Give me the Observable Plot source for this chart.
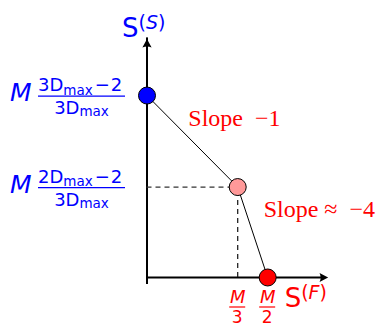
<!DOCTYPE html>
<html>
<head>
<meta charset="utf-8">
<script src="https://cdn.jsdelivr.net/npm/d3@7"></script>
<script src="https://cdn.jsdelivr.net/npm/@observablehq/plot@0.6"></script>
<style>
  body { margin: 0; background: #fff; }
  #chart svg { display: block; }
</style>
</head>
<body>
<div id="chart"></div>
<script>
// Breakpoints of the piecewise-linear frontier (schematic units of M)
const pointNames = ["top", "knee", "end"];
const pointX = [0, 0.333, 0.443];
const pointY = [0.668, 0.332, 0];
const pointFill = ["#0000ff", "#ff9999", "#ff0000"];

// Axis extents (arrow tips)
const xAxisEnd = 0.665;
const yAxisEnd = 0.876;

// Tick labels: y ticks read M·(kD_max − 2)/(3D_max), x ticks read M/3 and M/2
const yTickCoef = ["3", "2"];
const xTickDen = ["3", "2"];

// Axis titles
const yTitle = {base: "S", sup: "S"};
const xTitle = {base: "S", sup: "F"};

// Segment annotations
const slopeLabels = ["Slope\u2002\u22121", "Slope \u2248\u2002\u22124"];

const points = pointNames.map((name, i) => ({name, x: pointX[i], y: pointY[i], fill: pointFill[i]}));
const midpoints = slopeLabels.map((text, i) => ({
  text,
  x: (pointX[i] + pointX[i + 1]) / 2,
  y: (pointY[i] + pointY[i + 1]) / 2
}));

const sans = "DejaVu Sans";

// Filled arrowheads with the tip at the symbol origin
const arrowUp = {
  draw(ctx) {
    ctx.moveTo(0, 0);
    ctx.lineTo(4.6, 8.6);
    ctx.quadraticCurveTo(0, 6.4, -4.6, 8.6);
    ctx.closePath();
  }
};
const arrowRight = {
  draw(ctx) {
    ctx.moveTo(0, 0);
    ctx.lineTo(-8.6, -4.6);
    ctx.quadraticCurveTo(-6.4, 0, -8.6, 4.6);
    ctx.closePath();
  }
};

// Typeset labels (fractions, sub- and superscripts) placed through the plot scales
function mathLabels(index, {x, y}) {
  const g = d3.create("svg:g").attr("font-family", sans).attr("text-anchor", "start");

  // y ticks: M (kD_max − 2) / (3D_max)
  yTickCoef.forEach((k, i) => {
    const px = x(0), B = y(pointY[i]) + 1;
    const t = g.append("g").attr("fill", "#0000ff");
    t.append("text").attr("x", px - 136.5).attr("y", B + 5)
      .attr("font-size", 25).attr("font-style", "italic").text("M");
    const num = t.append("text").attr("x", px - 108.5).attr("y", B - 5).attr("font-size", 18);
    num.append("tspan").text(k + "D");
    num.append("tspan").attr("font-size", 13.5).attr("dy", 3.5).text("max");
    num.append("tspan").attr("dy", -3.5).attr("dx", 2).text("\u2212");
    num.append("tspan").attr("dx", 1).text("2");
    t.append("line").attr("x1", px - 108.5).attr("x2", px - 21.5)
      .attr("y1", B).attr("y2", B).attr("stroke", "#0000ff").attr("stroke-width", 1.2);
    const den = t.append("text").attr("x", px - 65).attr("y", B + 18.3)
      .attr("text-anchor", "middle").attr("font-size", 18);
    den.append("tspan").text("3D");
    den.append("tspan").attr("font-size", 13.5).attr("dy", 1.7).text("max");
  });

  // x ticks: M/3, M/2
  xTickDen.forEach((d, i) => {
    const px = x(pointX[i + 1]), py = y(0);
    const t = g.append("g").attr("fill", "#ff0000").attr("text-anchor", "middle");
    t.append("text").attr("x", px + 0.5).attr("y", py + 26.5)
      .attr("font-size", 18).attr("font-style", "italic").text("M");
    t.append("line").attr("x1", px - 8).attr("x2", px + 8)
      .attr("y1", py + 30).attr("y2", py + 30).attr("stroke", "#ff0000").attr("stroke-width", 1.2);
    t.append("text").attr("x", px).attr("y", py + 46.5)
      .attr("font-size", 17).text(d);
  });

  // axis titles S^(S) and S^(F)
  const title = (tx, ty, spec, color) => {
    const t = g.append("text").attr("x", tx).attr("y", ty).attr("fill", color).attr("font-size", 26);
    t.append("tspan").text(spec.base);
    t.append("tspan").attr("font-size", 19).attr("dy", -8).text("(");
    t.append("tspan").attr("font-size", 19).attr("font-style", "italic").text(spec.sup);
    t.append("tspan").attr("font-size", 19).text(")");
  };
  title(x(0) - 24.5, y(yAxisEnd) - 1.8, yTitle, "#0000ff");
  title(x(xAxisEnd) - 43, y(0) + 29.7, xTitle, "#ff0000");

  return g.node();
}

const plot = Plot.plot({
  width: 389,
  height: 326,
  margin: 0,
  x: {domain: [-0.5378, 0.8902], axis: null},
  y: {domain: [-0.1799, 1.0169], axis: null},
  color: {type: "identity"},
  marks: [
    // axes
    Plot.ruleY([0], {x1: 0, x2: xAxisEnd, stroke: "black", strokeWidth: 2, insetRight: 6}),
    Plot.ruleX([0], {y1: 0, y2: yAxisEnd, stroke: "black", strokeWidth: 2, insetTop: 6, strokeLinecap: "square"}),
    Plot.dot([{x: 0, y: yAxisEnd}], {x: "x", y: "y", symbol: arrowUp, fill: "black", stroke: "none", r: 5}),
    Plot.dot([{x: xAxisEnd, y: 0}], {x: "x", y: "y", symbol: arrowRight, fill: "black", stroke: "none", r: 5}),
    // dashed guides to the knee
    Plot.ruleY([pointY[1]], {x1: 0, x2: pointX[1], stroke: "#333", strokeWidth: 1.2, strokeDasharray: "5,4"}),
    Plot.ruleX([pointX[1]], {y1: 0, y2: pointY[1], stroke: "#111", strokeWidth: 1.2, strokeDasharray: "5,4"}),
    // frontier
    Plot.line(points, {x: "x", y: "y", stroke: "black", strokeWidth: 1}),
    Plot.dot(points, {x: "x", y: "y", fill: "fill", r: 8.5, stroke: "black", strokeWidth: 1}),
    // slope annotations
    Plot.text([midpoints[0]], {x: "x", y: "y", text: "text", dx: -4, dy: -15, textAnchor: "start",
      lineAnchor: "bottom", fill: "#ff0000", fontFamily: "Liberation Serif", fontSize: 24}),
    Plot.text([midpoints[1]], {x: "x", y: "y", text: "text", dx: 11, dy: -15, textAnchor: "start",
      lineAnchor: "bottom", fill: "#ff0000", fontFamily: "Liberation Serif", fontSize: 24}),
    mathLabels
  ]
});

document.getElementById("chart").append(plot);
</script>
</body>
</html>
